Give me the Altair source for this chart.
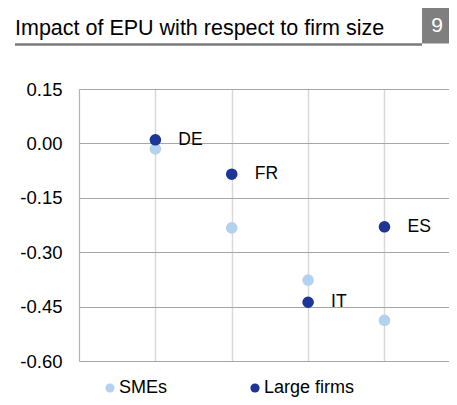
import altair as alt
import pandas as pd

countries = ["DE", "FR", "IT", "ES"]
positions = [1, 2, 3, 4]
smes = [-0.015, -0.233, -0.377, -0.488]
large_firms = [0.01, -0.085, -0.438, -0.23]
series_names = ["SMEs", "Large firms"]
series_colors = ["#b4d2f0", "#1c3596"]
y_ticks = [0.15, 0.0, -0.15, -0.30, -0.45, -0.60]
x_grid = [1, 2, 3, 4]
title_text = "Impact of EPU with respect to firm size"
badge_text = "9"

rows = []
for name, vals in zip(series_names, [smes, large_firms]):
    for c, p, v in zip(countries, positions, vals):
        rows.append({"country": c, "pos": p, "series": name, "value": v})
df = pd.DataFrame(rows)
lab_df = pd.DataFrame({"country": countries, "pos": positions, "value": large_firms})
one = pd.DataFrame({"k": [0]})

font = "Liberation Sans"

xenc = alt.X("pos:Q", scale=alt.Scale(domain=[0, 4.845], nice=False, zero=False),
             axis=alt.Axis(values=x_grid, grid=True, gridColor="#d9d9d9", gridWidth=1.5,
                           labels=False, ticks=False, domain=False, title=None))
yenc = alt.Y("value:Q", scale=alt.Scale(domain=[-0.6, 0.15], nice=False, zero=False),
             axis=alt.Axis(values=y_ticks, grid=True, gridColor="#a6a6a6", gridWidth=1,
                           ticks=False, domain=True, domainColor="#b3b3b3", domainWidth=1.2,
                           labelFontSize=18.5, labelColor="#000000", labelPadding=17,
                           labelFont=font, title=None,
                           labelExpr="(datum.value < -0.0001 ? '-' : '') + format(abs(datum.value), '.2f')"))

points = alt.Chart(df).mark_point(filled=True, size=135, opacity=1).encode(
    x=xenc,
    y=yenc,
    color=alt.Color("series:N",
                    scale=alt.Scale(domain=series_names, range=series_colors),
                    legend=alt.Legend(orient="none", legendX=22, legendY=290, direction="horizontal",
                                      title=None, labelFontSize=18, labelFont=font, labelColor="#000000",
                                      symbolSize=85, symbolType="circle", symbolStrokeWidth=0,
                                      symbolOpacity=1, columnPadding=78, labelOffset=0, padding=0)),
)

labels = alt.Chart(lab_df).mark_text(align="left", baseline="middle", dx=23, fontSize=17.5,
                                     font=font, color="#000000").encode(
    x="pos:Q", y="value:Q", text="country:N")

title = alt.Chart(one).mark_text(align="left", baseline="alphabetic", fontSize=21.5,
                                 font=font, color="#000000").encode(
    x=alt.value(-64), y=alt.value(-54), text=alt.value(title_text))

underline = alt.Chart(one).mark_rule(color="#7a7a7a", strokeWidth=2.5).encode(
    x=alt.value(-64), x2=alt.value(343), y=alt.value(-44.5))

badge = alt.Chart(one).mark_rect(color="#7f7f7f").encode(
    x=alt.value(343), x2=alt.value(370), y=alt.value(-85), y2=alt.value(-45.5))

badge_txt = alt.Chart(one).mark_text(align="center", baseline="alphabetic", fontSize=21,
                                     font=font, color="#ffffff").encode(
    x=alt.value(358), y=alt.value(-57), text=alt.value(badge_text))

chart = alt.layer(points, labels, title, underline, badge, badge_txt).properties(
    width=370, height=272,
    autosize=alt.AutoSizeParams(type="none"),
    padding={"left": 71, "top": 81, "right": 0, "bottom": 36},
).configure_view(strokeWidth=0).configure(font=font)

chart.save("out.html", embed_options={"renderer": "svg", "actions": False})
